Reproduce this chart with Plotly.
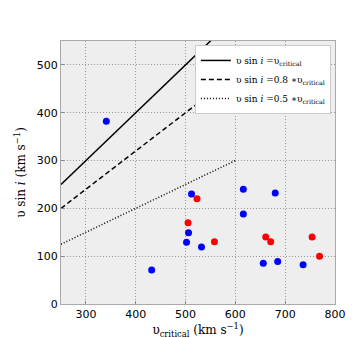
import plotly.graph_objects as go

# data
blue_vcrit = [341, 432, 512, 502, 506, 532, 616, 616, 656, 680, 685, 736]
blue_vsini = [382, 71, 230, 129, 149, 119, 240, 188, 85, 232, 89, 82]
red_vcrit = [505, 523, 558, 661, 671, 754, 769]
red_vsini = [170, 220, 130, 140, 130, 140, 100]
line_x = [250, 600]
factors = [1.0, 0.8, 0.5]
line_names = ["υ sin <i>i</i> =υ<sub>critical</sub>",
              "υ sin <i>i</i> =0.8 ∗υ<sub>critical</sub>",
              "υ sin <i>i</i> =0.5 ∗υ<sub>critical</sub>"]
dashes = ["solid", "5px,3px", "1px,2px"]

fig = go.Figure()
for f, name, d in zip(factors, line_names, dashes):
    fig.add_trace(go.Scatter(x=line_x, y=[f * v for v in line_x], mode="lines",
                             name=name, line=dict(color="black", width=1.5, dash=d)))
fig.add_trace(go.Scatter(x=blue_vcrit, y=blue_vsini, mode="markers", showlegend=False,
                         marker=dict(color="#0000ff", size=7, line=dict(width=0))))
fig.add_trace(go.Scatter(x=red_vcrit, y=red_vsini, mode="markers", showlegend=False,
                         marker=dict(color="#ff0000", size=7, line=dict(width=0))))

axis_common = dict(showgrid=True, gridcolor="#999999", griddash="1px,2px", gridwidth=1,
                   showline=True, linecolor="#aaaaaa", linewidth=1, mirror=True,
                   ticks="inside", ticklen=3, tickcolor="#888888", zeroline=False,
                   tickfont=dict(family="DejaVu Sans", size=11, color="black"))

fig.update_layout(
    width=364, height=338,
    margin=dict(l=45, r=37, t=33, b=35),
    plot_bgcolor="#eeeeee", paper_bgcolor="white",
    xaxis=dict(range=[250, 800], tickvals=[300, 400, 500, 600, 700, 800],
               title=dict(text="υ<sub>critical</sub> (km s<sup>−1</sup>)", standoff=4,
                          font=dict(family="DejaVu Serif", size=12, color="black")),
               **axis_common),
    yaxis=dict(range=[0, 550], tickvals=[0, 100, 200, 300, 400, 500],
               title=dict(text="υ sin <i>i</i> (km s<sup>−1</sup>)", standoff=8,
                          font=dict(family="DejaVu Serif", size=12, color="black")),
               **axis_common),
    legend=dict(x=0.985, y=0.985, xanchor="right", yanchor="top",
                bgcolor="white", bordercolor="#cccccc", borderwidth=1,
                font=dict(family="DejaVu Serif", size=9, color="black"),
                tracegroupgap=0, itemwidth=30),
    showlegend=True,
)

fig.write_html("out.html")
